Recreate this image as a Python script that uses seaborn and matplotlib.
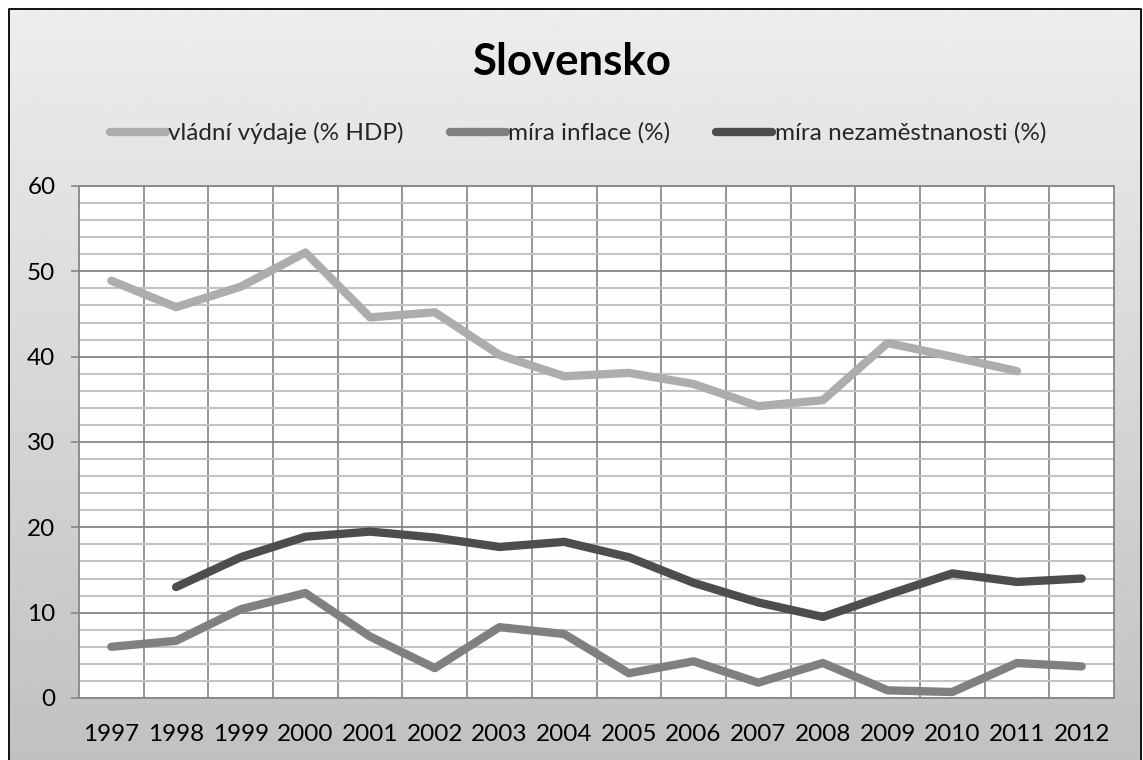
import numpy as np
import pandas as pd
import matplotlib
matplotlib.use("Agg")
import matplotlib.pyplot as plt
from matplotlib.lines import Line2D
import seaborn as sns

nan = np.nan
roky = list(range(1997, 2013))
vydaje = [48.9, 45.8, 48.2, 52.2, 44.6, 45.2, 40.2, 37.7, 38.1, 36.8, 34.2, 34.9, 41.6, 40.0, 38.3, nan]
inflace = [6.0, 6.7, 10.4, 12.3, 7.2, 3.5, 8.3, 7.5, 2.9, 4.3, 1.8, 4.1, 0.9, 0.7, 4.1, 3.7]
nezam = [nan, 13.0, 16.5, 18.9, 19.5, 18.8, 17.7, 18.3, 16.5, 13.5, 11.2, 9.5, 12.1, 14.6, 13.6, 14.0]
nazvy = ["vládní výdaje (% HDP)", "míra inflace (%)", "míra nezaměstnanosti (%)"]
barvy = ["#adadad", "#808080", "#4d4d4d"]

df = pd.DataFrame({
    "rok": roky * 3,
    "hodnota": vydaje + inflace + nezam,
    "rada": [nazvy[0]] * 16 + [nazvy[1]] * 16 + [nazvy[2]] * 16,
})

sns.set_theme(style="white")
plt.rcParams["font.family"] = ["Lato", "DejaVu Sans"]

W, H = 1143, 760
fig = plt.figure(figsize=(W / 100, H / 100), dpi=100)
fig.patch.set_facecolor("white")

# gradient background inside frame
bg = fig.add_axes([9 / W, 0, (1141 - 9) / W, (H - 9) / H], zorder=0)
grad = np.linspace(237, 193, 256) / 255
bg.imshow(np.tile(grad[:, None], (1, 2)), cmap="gray", vmin=0, vmax=1,
          aspect="auto", extent=[0, 1, 0, 1], interpolation="bilinear")
bg.axis("off")
fig.add_artist(Line2D([9 / W, 9 / W, 1141 / W, 1141 / W], [0, 1 - 9 / H, 1 - 9 / H, 0],
                      transform=fig.transFigure, color="black", lw=1.3))

ax = fig.add_axes([79 / W, 62 / H, 1035 / W, 512 / H], zorder=1)
ax.set_facecolor("white")

LW = 6.0
sns.lineplot(data=df, x="rok", y="hodnota", hue="rada", hue_order=nazvy,
             palette=dict(zip(nazvy, barvy)), ax=ax, lw=LW, legend=False,
             solid_capstyle="round", solid_joinstyle="round")

ax.set_xlim(1996.5, 2012.5)
ax.set_ylim(0, 60)
ax.set_yticks(range(0, 61, 10))
ax.set_yticks(range(0, 61, 2), minor=True)
ax.set_xticks(roky)
ax.set_xticklabels([str(r) for r in roky])
ax.set_xticks(np.arange(1997.5, 2012, 1), minor=True)
ax.set_axisbelow(True)
ax.grid(which="major", axis="y", color="#868686", lw=1.3)
ax.grid(which="minor", axis="y", color="#c3c3c3", lw=1.5)
ax.grid(which="minor", axis="x", color="#8c8c8c", lw=1.3)
ax.grid(which="major", axis="x", visible=False)
ax.tick_params(axis="y", which="major", left=True, length=6, width=1.2,
               color="#868686", pad=11, labelsize=17.5, labelcolor="black")
ax.tick_params(axis="y", which="minor", left=False)
ax.tick_params(axis="x", which="both", bottom=False, pad=13, labelsize=17.5,
               labelcolor="black")
for s in ax.spines.values():
    s.set_color("#868686")
    s.set_linewidth(1.3)
ax.set_xlabel("")
ax.set_ylabel("")

fig.text(0.5, 1 - 75 / H, "Slovensko", ha="center", va="baseline",
         fontsize=31.5, fontweight="bold", color="black")

handles = [Line2D([], [], color=c, lw=LW, solid_capstyle="round") for c in barvy]
fig.legend(handles, nazvy, loc="center", bbox_to_anchor=(578 / W, 1 - 133 / H),
           ncol=3, frameon=False, fontsize=17.5, handlelength=2.3,
           handletextpad=0.1, columnspacing=1.9)

fig.savefig("out.png", dpi=100)
